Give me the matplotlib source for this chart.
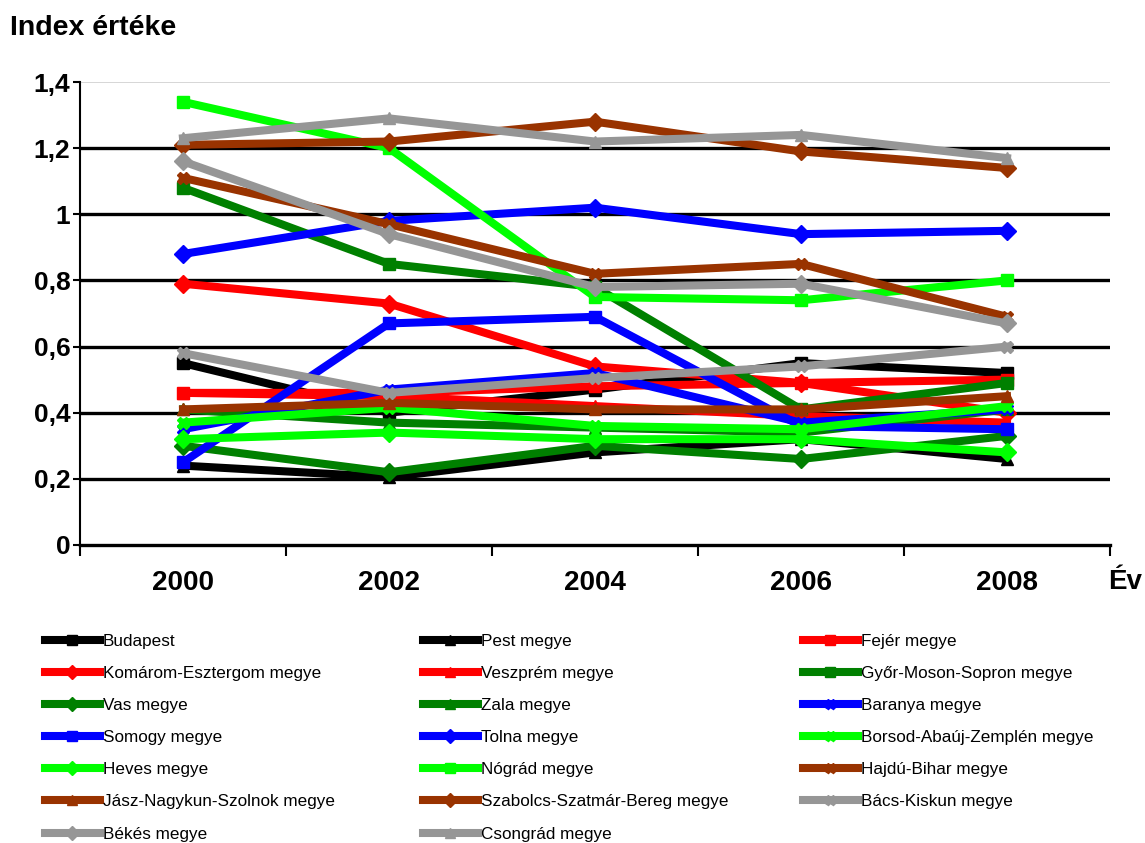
import matplotlib
matplotlib.use("Agg")
import matplotlib.pyplot as plt
from matplotlib.ticker import FuncFormatter

plt.rcParams['font.family'] = ['Liberation Sans', 'DejaVu Sans']

years = ["2000", "2002", "2004", "2006", "2008"]

budapest = [0.55, 0.40, 0.47, 0.55, 0.52]
pest = [0.24, 0.205, 0.28, 0.32, 0.26]
fejer = [0.46, 0.46, 0.48, 0.49, 0.50]
komarom = [0.79, 0.73, 0.54, 0.49, 0.40]
veszprem = [0.46, 0.45, 0.42, 0.39, 0.37]
gyor = [1.08, 0.85, 0.78, 0.41, 0.49]
vas = [0.30, 0.22, 0.30, 0.26, 0.33]
zala = [0.41, 0.37, 0.355, 0.34, 0.41]
baranya = [0.35, 0.47, 0.52, 0.37, 0.41]
somogy = [0.25, 0.67, 0.69, 0.36, 0.35]
tolna = [0.88, 0.98, 1.02, 0.94, 0.95]
borsod = [0.37, 0.415, 0.36, 0.35, 0.42]
heves = [0.32, 0.34, 0.32, 0.32, 0.28]
nograd = [1.34, 1.20, 0.75, 0.74, 0.80]
hajdu = [1.11, 0.97, 0.82, 0.85, 0.69]
jasz = [0.41, 0.43, 0.41, 0.41, 0.45]
szabolcs = [1.21, 1.22, 1.28, 1.19, 1.14]
bacs = [0.58, 0.46, 0.505, 0.54, 0.60]
bekes = [1.16, 0.94, 0.78, 0.79, 0.67]
csongrad = [1.23, 1.29, 1.22, 1.24, 1.17]

names = ["Budapest", "Pest megye", "Fejér megye", "Komárom-Esztergom megye",
         "Veszprém megye", "Győr-Moson-Sopron megye", "Vas megye", "Zala megye",
         "Baranya megye", "Somogy megye", "Tolna megye", "Borsod-Abaúj-Zemplén megye",
         "Heves megye", "Nógrád megye", "Hajdú-Bihar megye", "Jász-Nagykun-Szolnok megye",
         "Szabolcs-Szatmár-Bereg megye", "Bács-Kiskun megye", "Békés megye", "Csongrád megye"]
series = [budapest, pest, fejer, komarom, veszprem, gyor, vas, zala, baranya, somogy,
          tolna, borsod, heves, nograd, hajdu, jasz, szabolcs, bacs, bekes, csongrad]

BLACK, RED, GREEN, BLUE, LIME, BROWN, GRAY = "#000000", "#FF0000", "#008000", "#0000FF", "#00FF00", "#993300", "#969696"
colors = [BLACK, BLACK, RED, RED, RED, GREEN, GREEN, GREEN, BLUE, BLUE, BLUE,
          LIME, LIME, LIME, BROWN, BROWN, BROWN, GRAY, GRAY, GRAY]
markers = ['s', '^', 's', 'D', '^', 's', 'D', '^', 'X', 's', 'D', 'X', 'D', 's',
           'X', '^', 'D', 'X', 'D', '^']

fig = plt.figure(figsize=(11.45, 8.43), dpi=100)
ax = fig.add_axes([80/1145, 1-545/843, 1030/1145, 463/843])

x = list(range(len(years)))
handles = []
for vals, name, c, m in zip(series, names, colors, markers):
    h, = ax.plot(x, vals, color=c, lw=5.8, marker=m, markersize=9,
                 markeredgecolor=c, markerfacecolor=c, label=name,
                 solid_joinstyle='miter', zorder=3)
    handles.append(h)

ax.set_xlim(-0.5, 4.5)
ax.set_ylim(0, 1.4)
yt = [0, 0.2, 0.4, 0.6, 0.8, 1.0, 1.2, 1.4]
ax.set_yticks(yt)
ax.yaxis.set_major_formatter(FuncFormatter(lambda v, p: ("%g" % round(v, 1)).replace('.', ',')))
for v in [0.2, 0.4, 0.6, 0.8, 1.0, 1.2]:
    ax.axhline(v, color='black', lw=2.4, zorder=1)
ax.axhline(1.4, color='#D0D0D0', lw=1.2, zorder=1)

ax.set_xticks([i - 0.5 for i in range(6)])
ax.set_xticklabels([])
ax.set_xticks(x, minor=True)
ax.set_xticklabels(years, minor=True, fontsize=20, fontweight='bold')
ax.tick_params(axis='x', which='major', direction='out', length=8, width=1.5)
ax.tick_params(axis='x', which='minor', length=0, pad=18)
ax.tick_params(axis='y', direction='out', length=5, width=1.5, labelsize=19, pad=2)
for lab in ax.get_yticklabels():
    lab.set_fontweight('bold')

for s in ['top', 'right']:
    ax.spines[s].set_visible(False)
ax.spines['left'].set_linewidth(1.5)
ax.spines['bottom'].set_linewidth(2.4)

fig.text(10/1145, 1-28/843, "Index értéke", fontsize=20.5, fontweight='bold', va='center', ha='left')
fig.text(1108/1145, 1-582/843, "Év", fontsize=20, fontweight='bold', va='center', ha='left')

col_x = [45, 423, 803]
for col in range(3):
    idx = list(range(col, len(handles), 3))
    leg = fig.legend([handles[i] for i in idx], [names[i] for i in idx],
                     loc='upper left', bbox_to_anchor=(col_x[col]/1145, 1-634/843),
                     frameon=False, fontsize=12.3, handlelength=3.2, handletextpad=0.2,
                     labelspacing=1.0, borderaxespad=0, borderpad=0,
                     markerscale=0.8)

fig.savefig("out.png", dpi=100)
